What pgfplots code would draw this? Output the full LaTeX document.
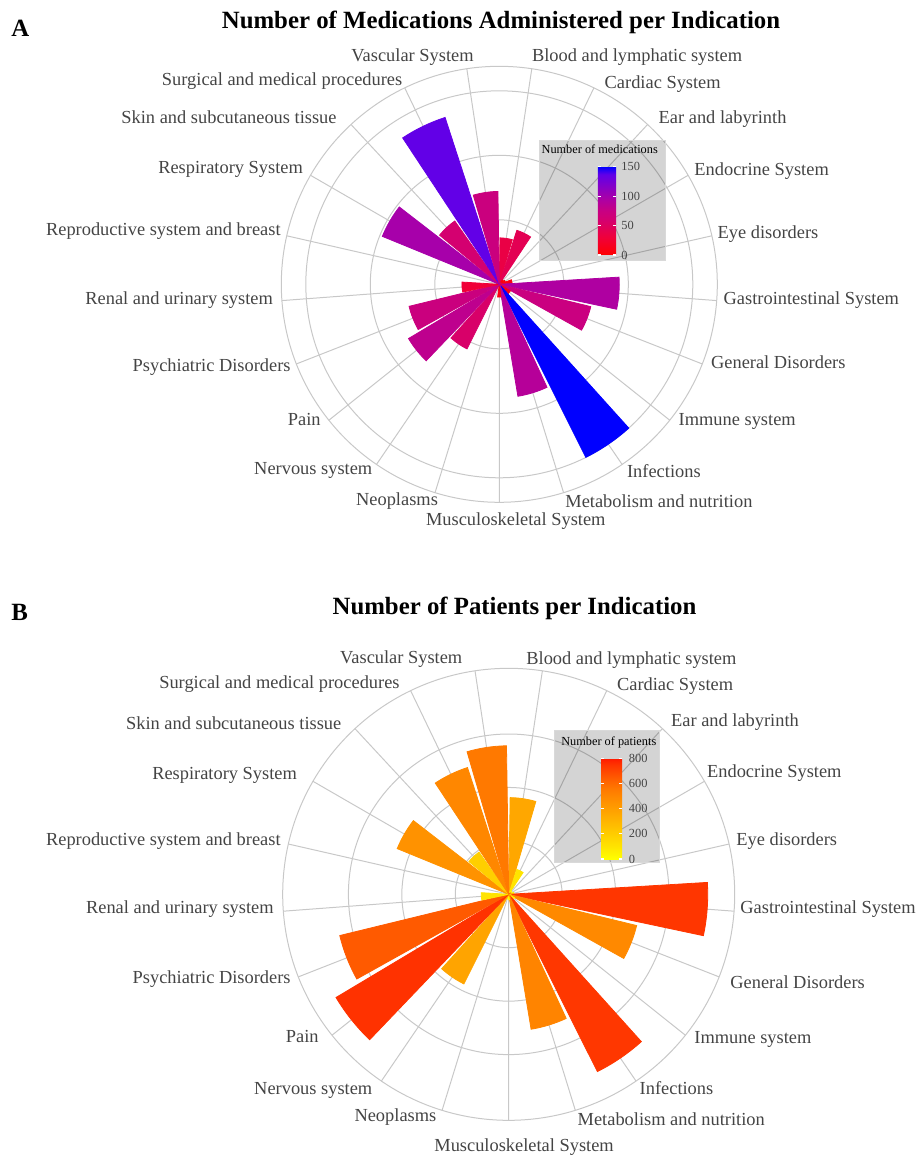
\documentclass[border=0pt]{standalone}
\usepackage{fontspec}
\setmainfont{Liberation Serif}
\usepackage{pgfplots}
\usepgfplotslibrary{polar}
\pgfplotsset{compat=1.18}
\usepackage{pgfplotstable}

\definecolor{lbl}{RGB}{68,68,68}
\definecolor{gridc}{RGB}{200,200,200}

% idx: category index (clockwise), val: value
\pgfplotstableread{
idx val
0 36
1 44
2 4
3 5
4 10
5 93
6 73
7 10
8 150
9 88
10 10
11 2
12 56
13 82
14 72
15 29
16 2
17 98
18 60
19 136
20 72
}\dataA

\pgfplotstableread{
idx val
0 362
1 98
2 15
3 10
4 20
5 745
6 493
7 25
8 742
9 512
10 20
11 15
12 375
13 753
14 651
15 103
16 10
17 451
18 193
19 499
20 556
}\dataB

\pgfdeclareplotmark{nothing}{}

\tikzset{lab/.style={font=\fontsize{9.2}{11}\selectfont, text=lbl, inner sep=0pt}}

\pgfplotsset{
  colormap={medA}{rgb255(0pt)=(255,0,0) rgb255(30pt)=(240,0,58) rgb255(60pt)=(212,0,112) rgb255(75pt)=(200,0,130) rgb255(95pt)=(172,0,165) rgb255(137pt)=(96,0,232) rgb255(150pt)=(0,0,255)},
  colormap={patB}{rgb255(0pt)=(255,255,0) rgb255(100pt)=(255,228,0) rgb255(200pt)=(255,205,0) rgb255(370pt)=(255,165,0) rgb255(500pt)=(255,135,0) rgb255(560pt)=(255,120,0) rgb255(650pt)=(255,90,0) rgb255(750pt)=(255,52,0) rgb255(800pt)=(255,25,0)},
  rosebar/.style={
    scatter, only marks, mark=nothing,
    point meta=explicit,
    visualization depends on={rawy \as \barval},
    visualization depends on={rawx \as \barang},
    scatter/@pre marker code/.code={%
      \pgfplotscolormapdefinemappedcolor{\pgfplotspointmetatransformed}%
      \begingroup
      \pgfkeys{/pgf/fpu=true,/pgf/fpu/output format=fixed}%
      \pgfmathsetmacro\rr{\barval*#1}%
      \pgfmathsetmacro\phA{\barang-7.714}%
      \pgfmathsetmacro\phB{\barang+7.714}%
      \pgfmathsetmacro\phC{\barang+180}%
      \pgfkeys{/pgf/fpu=false}%
      \fill[mapped color] (\phC:\rr pt) -- ++(\phA:\rr pt) arc[start angle=\phA, end angle=\phB, radius=\rr pt] -- cycle;
      \endgroup
    },
    scatter/@post marker code/.code={},
  },
  rosegrid/.style={
    scale only axis, anchor=center,
    xmin=0, xmax=360, ymin=0,
    xtick={12.857,30,47.143,64.286,81.429,98.571,115.714,132.857,150,167.143,184.286,201.429,218.571,235.714,252.857,270,287.143,304.286,321.429,338.571,355.714},
    xticklabels={}, yticklabels={},
    grid=major,
    major grid style={draw=gridc, line width=0.5pt},
    axis line style={draw=gridc, line width=0.5pt},
    y axis line style={draw=none},
    major tick length=0pt,
    tick style={draw=none},
  },
  cbstyle/.style={
    hide axis, scale only axis, width=0pt, height=0pt,
    colorbar,
  },
}

\begin{document}
\begin{tikzpicture}
\coordinate (cbA) at (290.35pt,-127.5pt);
\coordinate (cbB) at (292pt,-429.5pt);

% ---------------- Panel A ----------------
\begin{polaraxis}[rosegrid, at={(249.65pt,-142.15pt)}, width=218pt, height=218pt,
  ymax=169, ytick={50,100,150},
  colormap name=medA, point meta min=0, point meta max=150]
\addplot[rosebar=0.64497] table[x expr={mod(441.428571-17.142857*\thisrow{idx},360)}, y=val, meta=val] {\dataA};
\end{polaraxis}

\fill[black, fill opacity=0.17] (269.75pt,-70.25pt) rectangle (332.5pt,-130.35pt);
\draw[white!85!black, line width=0.5pt] (269.75pt,-70.25pt) rectangle (332.5pt,-130.35pt);

\begin{axis}[cbstyle, at={(cbA)}, colormap name=medA, point meta min=0, point meta max=150,
  colorbar style={at={(cbA)}, anchor=south west, scale only axis, width=9.15pt, height=44.15pt,
    ytick={0,50,100,150}, ytick pos=both, yticklabel pos=right,
    tick align=inside, major tick length=1.6pt, tick style={white, line width=0.6pt},
    axis line style={draw=none},
    yticklabel style={font=\fontsize{6.2}{7}\selectfont, text=lbl, inner sep=0pt, xshift=2.5pt, /pgf/number format/assume math mode=true}}]
\addplot[draw=none] coordinates {(0,0)};
\end{axis}
\node[anchor=base, font=\fontsize{6.15}{7}\selectfont, inner sep=0pt] at (299.85pt,-77pt) {Number of medications};

\node[anchor=base, font=\bfseries\fontsize{12.4}{14}\selectfont, inner sep=0pt] at (250.5pt,-14.2pt) {Number of Medications Administered per Indication};
\node[anchor=base west, font=\bfseries\fontsize{12.4}{14}\selectfont, inner sep=0pt] at (5.5pt,-18.2pt) {A};

\node[lab, anchor=base west] at (265.85pt,-30.85pt) {Blood and lymphatic system};
\node[lab, anchor=base west] at (302.15pt,-44.15pt) {Cardiac System};
\node[lab, anchor=base west] at (329.15pt,-61.65pt) {Ear and labyrinth};
\node[lab, anchor=base west] at (347pt,-88pt) {Endocrine System};
\node[lab, anchor=base west] at (358.65pt,-119.15pt) {Eye disorders};
\node[lab, anchor=base west] at (361.65pt,-152.15pt) {Gastrointestinal System};
\node[lab, anchor=base west] at (355.35pt,-184.15pt) {General Disorders};
\node[lab, anchor=base west] at (339.15pt,-212.85pt) {Immune system};
\node[lab, anchor=base west] at (313.35pt,-238.65pt) {Infections};
\node[lab, anchor=base west] at (282.5pt,-253.85pt) {Metabolism and nutrition};
\node[lab, anchor=base west] at (212.85pt,-262.5pt) {Musculoskeletal System};
\node[lab, anchor=base east] at (219.15pt,-252.5pt) {Neoplasms};
\node[lab, anchor=base east] at (186.35pt,-237.15pt) {Nervous system};
\node[lab, anchor=base east] at (160.5pt,-212.85pt) {Pain};
\node[lab, anchor=base east] at (145.5pt,-185.5pt) {Psychiatric Disorders};
\node[lab, anchor=base east] at (136.65pt,-152.15pt) {Renal and urinary system};
\node[lab, anchor=base east] at (140.5pt,-117.5pt) {Reproductive system and breast};
\node[lab, anchor=base east] at (151.65pt,-87pt) {Respiratory System};
\node[lab, anchor=base east] at (168.5pt,-61.65pt) {Skin and subcutaneous tissue};
\node[lab, anchor=base east] at (201.35pt,-42.85pt) {Surgical and medical procedures};
\node[lab, anchor=base east] at (237pt,-30.85pt) {Vascular System};

% ---------------- Panel B ----------------
\begin{polaraxis}[rosegrid, at={(254.35pt,-447.15pt)}, width=226pt, height=226pt,
  ymax=846, ytick={200,400,600},
  colormap name=patB, point meta min=0, point meta max=800]
\addplot[rosebar=0.13357] table[x expr={mod(441.428571-17.142857*\thisrow{idx},360)}, y=val, meta=val] {\dataB};
\end{polaraxis}

\fill[black, fill opacity=0.17] (277pt,-365.35pt) rectangle (329.65pt,-431.35pt);
\draw[white!85!black, line width=0.5pt] (277pt,-365.35pt) rectangle (329.65pt,-431.35pt);

\begin{axis}[cbstyle, at={(cbB)}, colormap name=patB, point meta min=0, point meta max=800,
  colorbar style={at={(cbB)}, anchor=south west, scale only axis, width=10.5pt, height=50.35pt,
    ytick={0,200,400,600,800}, ytick pos=both, yticklabel pos=right,
    tick align=inside, major tick length=1.6pt, tick style={white, line width=0.6pt},
    axis line style={draw=none},
    yticklabel style={font=\fontsize{6.2}{7}\selectfont, text=lbl, inner sep=0pt, xshift=3.2pt, /pgf/number format/assume math mode=true}}]
\addplot[draw=none] coordinates {(0,0)};
\end{axis}
\node[anchor=base, font=\fontsize{6.15}{7}\selectfont, inner sep=0pt] at (304.4pt,-372.5pt) {Number of patients};

\node[anchor=base, font=\bfseries\fontsize{12.4}{14}\selectfont, inner sep=0pt] at (257.25pt,-307pt) {Number of Patients per Indication};
\node[anchor=base west, font=\bfseries\fontsize{12.4}{14}\selectfont, inner sep=0pt] at (5.5pt,-310.2pt) {B};

\node[lab, anchor=base west] at (263pt,-332pt) {Blood and lymphatic system};
\node[lab, anchor=base west] at (308.35pt,-345pt) {Cardiac System};
\node[lab, anchor=base west] at (335.35pt,-363pt) {Ear and labyrinth};
\node[lab, anchor=base west] at (353.35pt,-388.85pt) {Endocrine System};
\node[lab, anchor=base west] at (368pt,-422.85pt) {Eye disorders};
\node[lab, anchor=base west] at (370pt,-456.65pt) {Gastrointestinal System};
\node[lab, anchor=base west] at (365pt,-494.15pt) {General Disorders};
\node[lab, anchor=base west] at (347pt,-521.65pt) {Immune system};
\node[lab, anchor=base west] at (319.65pt,-547pt) {Infections};
\node[lab, anchor=base west] at (288.65pt,-562.5pt) {Metabolism and nutrition};
\node[lab, anchor=base west] at (217pt,-575.5pt) {Musculoskeletal System};
\node[lab, anchor=base east] at (218.35pt,-560.85pt) {Neoplasms};
\node[lab, anchor=base east] at (186.35pt,-547.15pt) {Nervous system};
\node[lab, anchor=base east] at (159.5pt,-521.15pt) {Pain};
\node[lab, anchor=base east] at (145.5pt,-491.65pt) {Psychiatric Disorders};
\node[lab, anchor=base east] at (137pt,-456.65pt) {Renal and urinary system};
\node[lab, anchor=base east] at (140.5pt,-422.5pt) {Reproductive system and breast};
\node[lab, anchor=base east] at (148.65pt,-389.65pt) {Respiratory System};
\node[lab, anchor=base east] at (170.85pt,-364.65pt) {Skin and subcutaneous tissue};
\node[lab, anchor=base east] at (200pt,-344.15pt) {Surgical and medical procedures};
\node[lab, anchor=base east] at (231.35pt,-331.65pt) {Vascular System};

\pgfresetboundingbox
\useasboundingbox (0pt,0pt) rectangle (459pt,-577.5pt);
\end{tikzpicture}
\end{document}
